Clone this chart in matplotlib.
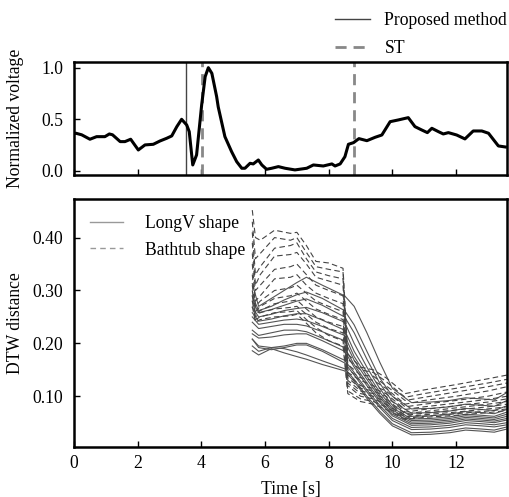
import matplotlib
matplotlib.use("Agg")
import matplotlib.pyplot as plt
from matplotlib.lines import Line2D

plt.rcParams['font.family'] = ['Liberation Serif', 'DejaVu Serif']
plt.rcParams['font.size'] = 12.7
plt.rcParams['mathtext.fontset'] = 'stix'

# ---------------- data: top panel (normalized voltage) ----------------
sig_t = [0.0, 0.06, 0.24, 0.50, 0.71, 0.97, 1.11, 1.21, 1.45, 1.60, 1.78, 2.02, 2.23, 2.49,
         2.70, 2.91, 3.07, 3.23, 3.38, 3.54, 3.62, 3.73, 3.85, 4.01, 4.12, 4.22, 4.33, 4.48,
         4.53, 4.74, 4.95, 5.11, 5.27, 5.37, 5.53, 5.63, 5.79, 5.90, 6.05, 6.21, 6.42, 6.63,
         6.94, 7.31, 7.52, 7.83, 8.10, 8.20, 8.36, 8.51, 8.62, 8.78, 8.95, 9.20, 9.46, 9.67,
         9.93, 10.19, 10.50, 10.71, 10.92, 11.10, 11.24, 11.45, 11.60, 11.76, 12.02, 12.28,
         12.54, 12.81, 13.02, 13.33, 13.55]
sig_v = [0.36, 0.365, 0.35, 0.307, 0.332, 0.332, 0.358, 0.35, 0.284, 0.284, 0.307, 0.203, 0.252, 0.258,
         0.29, 0.316, 0.339, 0.429, 0.50, 0.445, 0.38, 0.058, 0.155, 0.64, 0.913, 1.0, 0.945, 0.72,
         0.62, 0.332, 0.187, 0.09, 0.026, 0.026, 0.074, 0.068, 0.106, 0.058, 0.016, 0.026, 0.042, 0.026,
         0.01, 0.026, 0.058, 0.048, 0.068, 0.048, 0.068, 0.138, 0.258, 0.274, 0.313, 0.293, 0.326, 0.348,
         0.477, 0.494, 0.516, 0.429, 0.397, 0.371, 0.413, 0.38, 0.358, 0.371, 0.348, 0.31,
         0.387, 0.387, 0.365, 0.242, 0.232]
proposed_t = [3.51]
st_t = [4.01, 8.80]

# ---------------- data: bottom panel (DTW distance) ----------------
solid_t = [5.6, 5.8, 6.2, 6.6, 7.0, 7.3, 7.8, 8.5, 8.8, 9.2, 9.6, 10.0, 10.6, 11.2, 11.8, 12.3, 12.8, 13.2, 13.6]
longv = [
    [0.313, 0.270, 0.285, 0.300, 0.315, 0.325, 0.310, 0.290, 0.270, 0.220, 0.165, 0.115, 0.088, 0.089, 0.092, 0.097, 0.095, 0.093, 0.107],
    [0.290, 0.262, 0.270, 0.282, 0.292, 0.297, 0.285, 0.262, 0.235, 0.185, 0.135, 0.100, 0.076, 0.077, 0.080, 0.085, 0.083, 0.081, 0.092],
    [0.280, 0.258, 0.264, 0.272, 0.280, 0.284, 0.272, 0.250, 0.220, 0.170, 0.125, 0.090, 0.068, 0.069, 0.072, 0.077, 0.075, 0.073, 0.082],
    [0.268, 0.250, 0.255, 0.262, 0.266, 0.268, 0.258, 0.240, 0.200, 0.155, 0.115, 0.083, 0.062, 0.063, 0.066, 0.071, 0.069, 0.067, 0.075],
    [0.258, 0.242, 0.246, 0.252, 0.256, 0.256, 0.244, 0.225, 0.185, 0.145, 0.108, 0.078, 0.057, 0.058, 0.061, 0.066, 0.064, 0.062, 0.070],
    [0.250, 0.236, 0.240, 0.244, 0.246, 0.243, 0.232, 0.215, 0.175, 0.138, 0.102, 0.074, 0.054, 0.055, 0.058, 0.063, 0.061, 0.059, 0.066],
    [0.240, 0.228, 0.232, 0.236, 0.236, 0.233, 0.222, 0.205, 0.168, 0.132, 0.098, 0.070, 0.051, 0.052, 0.055, 0.060, 0.058, 0.056, 0.062],
    [0.225, 0.215, 0.220, 0.225, 0.225, 0.222, 0.210, 0.192, 0.160, 0.125, 0.093, 0.066, 0.048, 0.049, 0.052, 0.057, 0.055, 0.053, 0.058],
    [0.218, 0.210, 0.212, 0.216, 0.218, 0.218, 0.205, 0.185, 0.155, 0.120, 0.089, 0.063, 0.045, 0.046, 0.049, 0.054, 0.052, 0.050, 0.055],
    [0.208, 0.195, 0.192, 0.195, 0.200, 0.200, 0.188, 0.168, 0.145, 0.112, 0.083, 0.058, 0.041, 0.042, 0.045, 0.050, 0.048, 0.046, 0.050],
    [0.208, 0.192, 0.188, 0.192, 0.197, 0.197, 0.185, 0.163, 0.140, 0.108, 0.079, 0.054, 0.037, 0.038, 0.041, 0.046, 0.044, 0.042, 0.046],
    [0.195, 0.185, 0.192, 0.190, 0.184, 0.178, 0.167, 0.152, 0.132, 0.100, 0.072, 0.048, 0.031, 0.032, 0.035, 0.040, 0.038, 0.036, 0.042],
    [0.186, 0.178, 0.190, 0.182, 0.175, 0.170, 0.160, 0.148, 0.128, 0.096, 0.068, 0.044, 0.027, 0.028, 0.031, 0.036, 0.034, 0.032, 0.038],
]

dash_t = [5.6, 5.7, 5.85, 6.3, 6.8, 7.0, 7.3, 7.6, 8.0, 8.45, 8.6, 9.0, 9.4, 9.8, 10.4, 11.0, 12.0, 13.0, 13.6]
bathtub = [
    [0.452, 0.400, 0.395, 0.414, 0.408, 0.410, 0.385, 0.355, 0.352, 0.342, 0.180, 0.155, 0.150, 0.135, 0.105, 0.112, 0.122, 0.133, 0.140],
    [0.430, 0.360, 0.370, 0.400, 0.395, 0.400, 0.372, 0.345, 0.340, 0.335, 0.170, 0.150, 0.145, 0.128, 0.098, 0.105, 0.115, 0.125, 0.132],
    [0.410, 0.330, 0.345, 0.380, 0.385, 0.390, 0.360, 0.335, 0.328, 0.322, 0.160, 0.140, 0.138, 0.120, 0.092, 0.098, 0.108, 0.118, 0.125],
    [0.390, 0.310, 0.330, 0.365, 0.368, 0.372, 0.350, 0.325, 0.318, 0.310, 0.150, 0.135, 0.130, 0.115, 0.085, 0.092, 0.100, 0.110, 0.118],
    [0.370, 0.300, 0.310, 0.340, 0.345, 0.350, 0.330, 0.310, 0.300, 0.290, 0.145, 0.130, 0.120, 0.110, 0.080, 0.085, 0.092, 0.100, 0.108],
    [0.350, 0.280, 0.290, 0.322, 0.325, 0.330, 0.310, 0.295, 0.285, 0.275, 0.140, 0.120, 0.115, 0.105, 0.075, 0.080, 0.087, 0.094, 0.100],
    [0.330, 0.270, 0.280, 0.300, 0.305, 0.310, 0.295, 0.280, 0.270, 0.260, 0.135, 0.115, 0.110, 0.100, 0.070, 0.075, 0.082, 0.089, 0.095],
    [0.310, 0.260, 0.270, 0.285, 0.290, 0.295, 0.280, 0.265, 0.255, 0.245, 0.130, 0.110, 0.105, 0.095, 0.067, 0.071, 0.078, 0.085, 0.090],
    [0.300, 0.255, 0.262, 0.275, 0.280, 0.282, 0.265, 0.250, 0.240, 0.232, 0.125, 0.105, 0.100, 0.090, 0.064, 0.068, 0.074, 0.080, 0.085],
    [0.290, 0.250, 0.258, 0.265, 0.268, 0.270, 0.255, 0.240, 0.228, 0.220, 0.120, 0.100, 0.095, 0.085, 0.061, 0.065, 0.070, 0.076, 0.080],
    [0.280, 0.245, 0.250, 0.258, 0.260, 0.262, 0.245, 0.230, 0.215, 0.205, 0.110, 0.095, 0.090, 0.080, 0.058, 0.062, 0.067, 0.072, 0.076],
    [0.270, 0.240, 0.245, 0.250, 0.252, 0.255, 0.238, 0.220, 0.205, 0.195, 0.105, 0.090, 0.085, 0.075, 0.056, 0.060, 0.064, 0.069, 0.073],
]

x_ticks = [0, 2, 4, 6, 8, 10, 12]
top_yticks = [0.0, 0.5, 1.0]
bot_yticks = [0.10, 0.20, 0.30, 0.40]

# ---------------- figure ----------------
fig = plt.figure(figsize=(5.09, 4.97), dpi=100)
ax1 = fig.add_axes([0.1454, 0.6469, 0.8506, 0.2284])
ax2 = fig.add_axes([0.1454, 0.1006, 0.8506, 0.4990])

for ax in (ax1, ax2):
    for s in ax.spines.values():
        s.set_linewidth(1.8)
    ax.tick_params(direction='in', length=4, width=1.0, top=False, right=False)
    ax.tick_params(axis='y', pad=7.5)
    ax.tick_params(axis='x', pad=6)
    ax.set_xlim(0, 13.6)
    ax.set_xticks(x_ticks)

# top panel
ax1.plot(sig_t, sig_v, color='black', lw=2.2, zorder=3)
for x in proposed_t:
    ax1.axvline(x, color='#444444', lw=1.0, zorder=2)
for x in st_t:
    ax1.axvline(x, color='#888888', lw=2.0, ls=(0, (4, 2.5)), zorder=2)
ax1.set_ylim(-0.044, 1.055)
ax1.set_yticks(top_yticks)
ax1.set_yticklabels(['0.0', '0.5', '1.0'])
ax1.set_xticklabels([])
ax1.set_ylabel('Normalized voltage')
ax1.yaxis.set_label_coords(-0.115, 0.5)
h1 = [Line2D([], [], color='#444444', lw=1.0),
      Line2D([], [], color='#888888', lw=2.0, ls=(0, (4, 2.5)))]
ax1.legend(h1, ['Proposed method', 'ST'], loc='lower right', bbox_to_anchor=(1.025, 0.95),
           frameon=False, handlelength=2.0, handletextpad=0.8, labelspacing=0.6, borderaxespad=0.2)

# bottom panel
for vals in longv:
    ax2.plot(solid_t, vals, color='#555555', lw=0.8)
for vals in bathtub:
    ax2.plot(dash_t, vals, color='#444444', lw=0.8, ls=(0, (5, 3)))
ax2.set_ylim(0.004, 0.473)
ax2.set_yticks(bot_yticks)
ax2.set_yticklabels(['0.10', '0.20', '0.30', '0.40'])
ax2.set_xlabel('Time [s]', labelpad=6)
ax2.set_ylabel('DTW distance')
ax2.yaxis.set_label_coords(-0.115, 0.5)
h2 = [Line2D([], [], color='#999999', lw=1.0),
      Line2D([], [], color='#999999', lw=1.0, ls=(0, (4, 3)))]
ax2.legend(h2, ['LongV shape', 'Bathtub shape'], loc='upper left', frameon=False,
           handlelength=1.9, handletextpad=1.2, labelspacing=0.55, borderaxespad=0.5)

fig.savefig('out.png', dpi=100)
